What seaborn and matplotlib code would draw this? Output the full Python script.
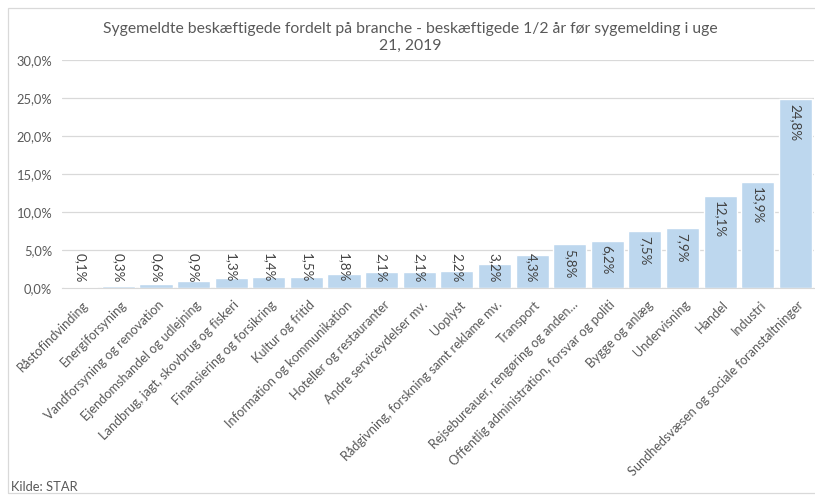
import numpy as np
import pandas as pd
import matplotlib
matplotlib.use("Agg")
import matplotlib.pyplot as plt
import seaborn as sns
from matplotlib.patches import Rectangle
from matplotlib.ticker import FuncFormatter

# ===== DATA =====
brancher = [
    "Råstofindvinding",
    "Energiforsyning",
    "Vandforsyning og renovation",
    "Ejendomshandel og udlejning",
    "Landbrug, jagt, skovbrug og fiskeri",
    "Finansiering og forsikring",
    "Kultur og fritid",
    "Information og kommunikation",
    "Hoteller og restauranter",
    "Andre serviceydelser mv.",
    "Uoplyst",
    "Rådgivning, forskning samt reklame mv.",
    "Transport",
    "Rejsebureauer, rengøring og anden…",
    "Offentlig administration, forsvar og politi",
    "Bygge og anlæg",
    "Undervisning",
    "Handel",
    "Industri",
    "Sundhedsvæsen og sociale foranstaltninger",
]
andel = [0.1, 0.3, 0.6, 0.9, 1.3, 1.4, 1.5, 1.8, 2.1, 2.1,
         2.2, 3.2, 4.3, 5.8, 6.2, 7.5, 7.9, 12.1, 13.9, 24.8]

title = ("Sygemeldte beskæftigede fordelt på branche - beskæftigede 1/2 år før sygemelding i uge\n"
         "21, 2019")
source = "Kilde: STAR"

df = pd.DataFrame({"branche": brancher, "andel": andel})

sns.set_style("white")
plt.rcParams["font.family"] = ["Lato", "DejaVu Sans"]

text_col = "#595959"
bar_col = "#BDD7EE"
grid_col = "#D9D9D9"

fig = plt.figure(figsize=(8.15, 4.95), dpi=100)
ax = fig.add_axes([0.076, 0.418, 0.923, 0.461])

sns.barplot(data=df, x="branche", y="andel", color=bar_col, width=0.88,
            saturation=1, ax=ax)

ax.set_ylim(0, 30)
ax.set_yticks(np.arange(0, 31, 5))
ax.yaxis.set_major_formatter(FuncFormatter(lambda v, p: f"{v:.1f}%".replace(".", ",")))
ax.grid(axis="y", color=grid_col, linewidth=0.9)
ax.set_axisbelow(True)
for side in ["top", "right", "left"]:
    ax.spines[side].set_visible(False)
ax.spines["bottom"].set_color(grid_col)
ax.set_xlabel("")
ax.set_ylabel("")
ax.tick_params(axis="y", labelsize=9.3, labelcolor=text_col, length=0, pad=7)
ax.tick_params(axis="x", length=0, pad=2)
ax.set_xticks(range(len(brancher)))
ax.set_xticklabels(brancher, rotation=45, ha="right", va="center",
                   rotation_mode="anchor", fontsize=9.2, color=text_col)
for lbl in ax.get_xticklabels():
    lbl.set_transform(lbl.get_transform() + matplotlib.transforms.ScaledTranslation(0.06, -0.12, fig.dpi_scale_trans))

# value labels, rotated, at inside end (pushed up when the bar is short)
for i, v in enumerate(andel):
    y_top = max(v - 0.6, 4.6)
    ax.text(i, y_top, f"{v:.1f}%".replace(".", ","), rotation=270,
            ha="center", va="top", fontsize=9.6, color="#404040")

fig.text(0.503, 0.925, title, ha="center", va="center", fontsize=11.3,
         color=text_col, linespacing=1.25)
fig.text(0.013, 0.016, source, ha="left", va="center", fontsize=9.3, color=text_col)

# chart frame
fig.patches.append(Rectangle((8 / 815, 2 / 495), 1.0, 485 / 495, transform=fig.transFigure,
                             fill=False, edgecolor="#D9D9D9", linewidth=0.9))

fig.savefig("out.png", dpi=100, facecolor="white")
